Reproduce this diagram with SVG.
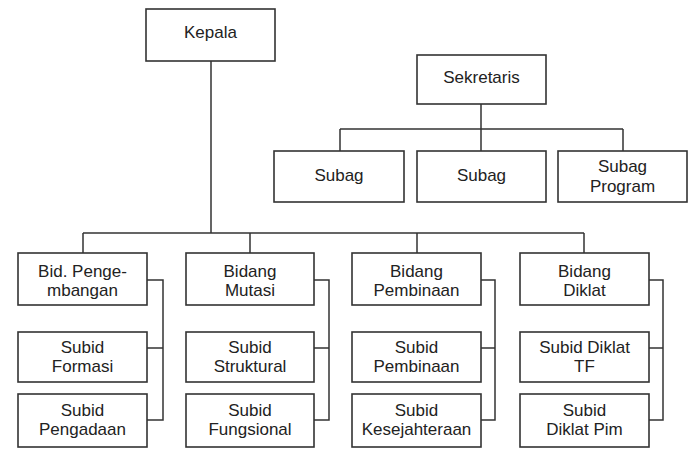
<svg xmlns="http://www.w3.org/2000/svg" width="700" height="456" viewBox="0 0 700 456">
<style>
.box{fill:#fff;stroke:#333;stroke-width:1.6}
.ln{fill:none;stroke:#333;stroke-width:1.5}
text{font-family:"Liberation Sans",Arial,sans-serif;font-size:17px;fill:#222;text-anchor:middle}
</style>
<rect width="700" height="456" fill="#fff"/>
<g id="connectors">
<path class="ln" d="M211 61V233M83 233H584M83 233V253M250 233V253M417 233V253M584 233V253"/>
<path class="ln" d="M481 104V129M340 129H623M340 129V151M481 129V151M623 129V151"/>
<path class="ln" d="M147 280H163V420H147M147 348H163"/>
<path class="ln" d="M314 280H329V420H314M314 348H329"/>
<path class="ln" d="M481 280H495V420H481M481 348H495"/>
<path class="ln" d="M649 280H663V420H649M649 348H663"/>
</g>
<g id="kepala"><rect class="box" x="146" y="9" width="129" height="52"/><text x="210.5" y="38">Kepala</text></g>
<g id="sekretaris"><rect class="box" x="417" y="55" width="129" height="49"/><text x="481.5" y="83">Sekretaris</text></g>
<g id="subag1"><rect class="box" x="274" y="151" width="130" height="51"/><text x="339" y="181">Subag</text></g>
<g id="subag2"><rect class="box" x="417" y="151" width="129" height="51"/><text x="481.5" y="181">Subag</text></g>
<g id="subag3"><rect class="box" x="558" y="151" width="129" height="51"/><text x="622.5" y="172">Subag</text><text x="622.5" y="192">Program</text></g>
<g id="bid1"><rect class="box" x="18" y="253" width="129" height="52"/><text x="82.5" y="277">Bid. Penge-</text><text x="82.5" y="296">mbangan</text></g>
<g id="bid1a"><rect class="box" x="18" y="332" width="129" height="50"/><text x="82.5" y="353">Subid</text><text x="82.5" y="372">Formasi</text></g>
<g id="bid1b"><rect class="box" x="18" y="394" width="129" height="53"/><text x="82.5" y="416">Subid</text><text x="82.5" y="435">Pengadaan</text></g>
<g id="bid2"><rect class="box" x="186" y="253" width="128" height="52"/><text x="250" y="277">Bidang</text><text x="250" y="296">Mutasi</text></g>
<g id="bid2a"><rect class="box" x="186" y="332" width="128" height="50"/><text x="250" y="353">Subid</text><text x="250" y="372">Struktural</text></g>
<g id="bid2b"><rect class="box" x="186" y="394" width="128" height="53"/><text x="250" y="416">Subid</text><text x="250" y="435">Fungsional</text></g>
<g id="bid3"><rect class="box" x="352" y="253" width="129" height="52"/><text x="416.5" y="277">Bidang</text><text x="416.5" y="296">Pembinaan</text></g>
<g id="bid3a"><rect class="box" x="352" y="332" width="129" height="50"/><text x="416.5" y="353">Subid</text><text x="416.5" y="372">Pembinaan</text></g>
<g id="bid3b"><rect class="box" x="352" y="394" width="129" height="53"/><text x="416.5" y="416">Subid</text><text x="416.5" y="435">Kesejahteraan</text></g>
<g id="bid4"><rect class="box" x="520" y="253" width="129" height="52"/><text x="584.5" y="277">Bidang</text><text x="584.5" y="296">Diklat</text></g>
<g id="bid4a"><rect class="box" x="520" y="332" width="129" height="50"/><text x="584.5" y="353">Subid Diklat</text><text x="584.5" y="372">TF</text></g>
<g id="bid4b"><rect class="box" x="520" y="394" width="129" height="53"/><text x="584.5" y="416">Subid</text><text x="584.5" y="435">Diklat Pim</text></g>
</svg>
